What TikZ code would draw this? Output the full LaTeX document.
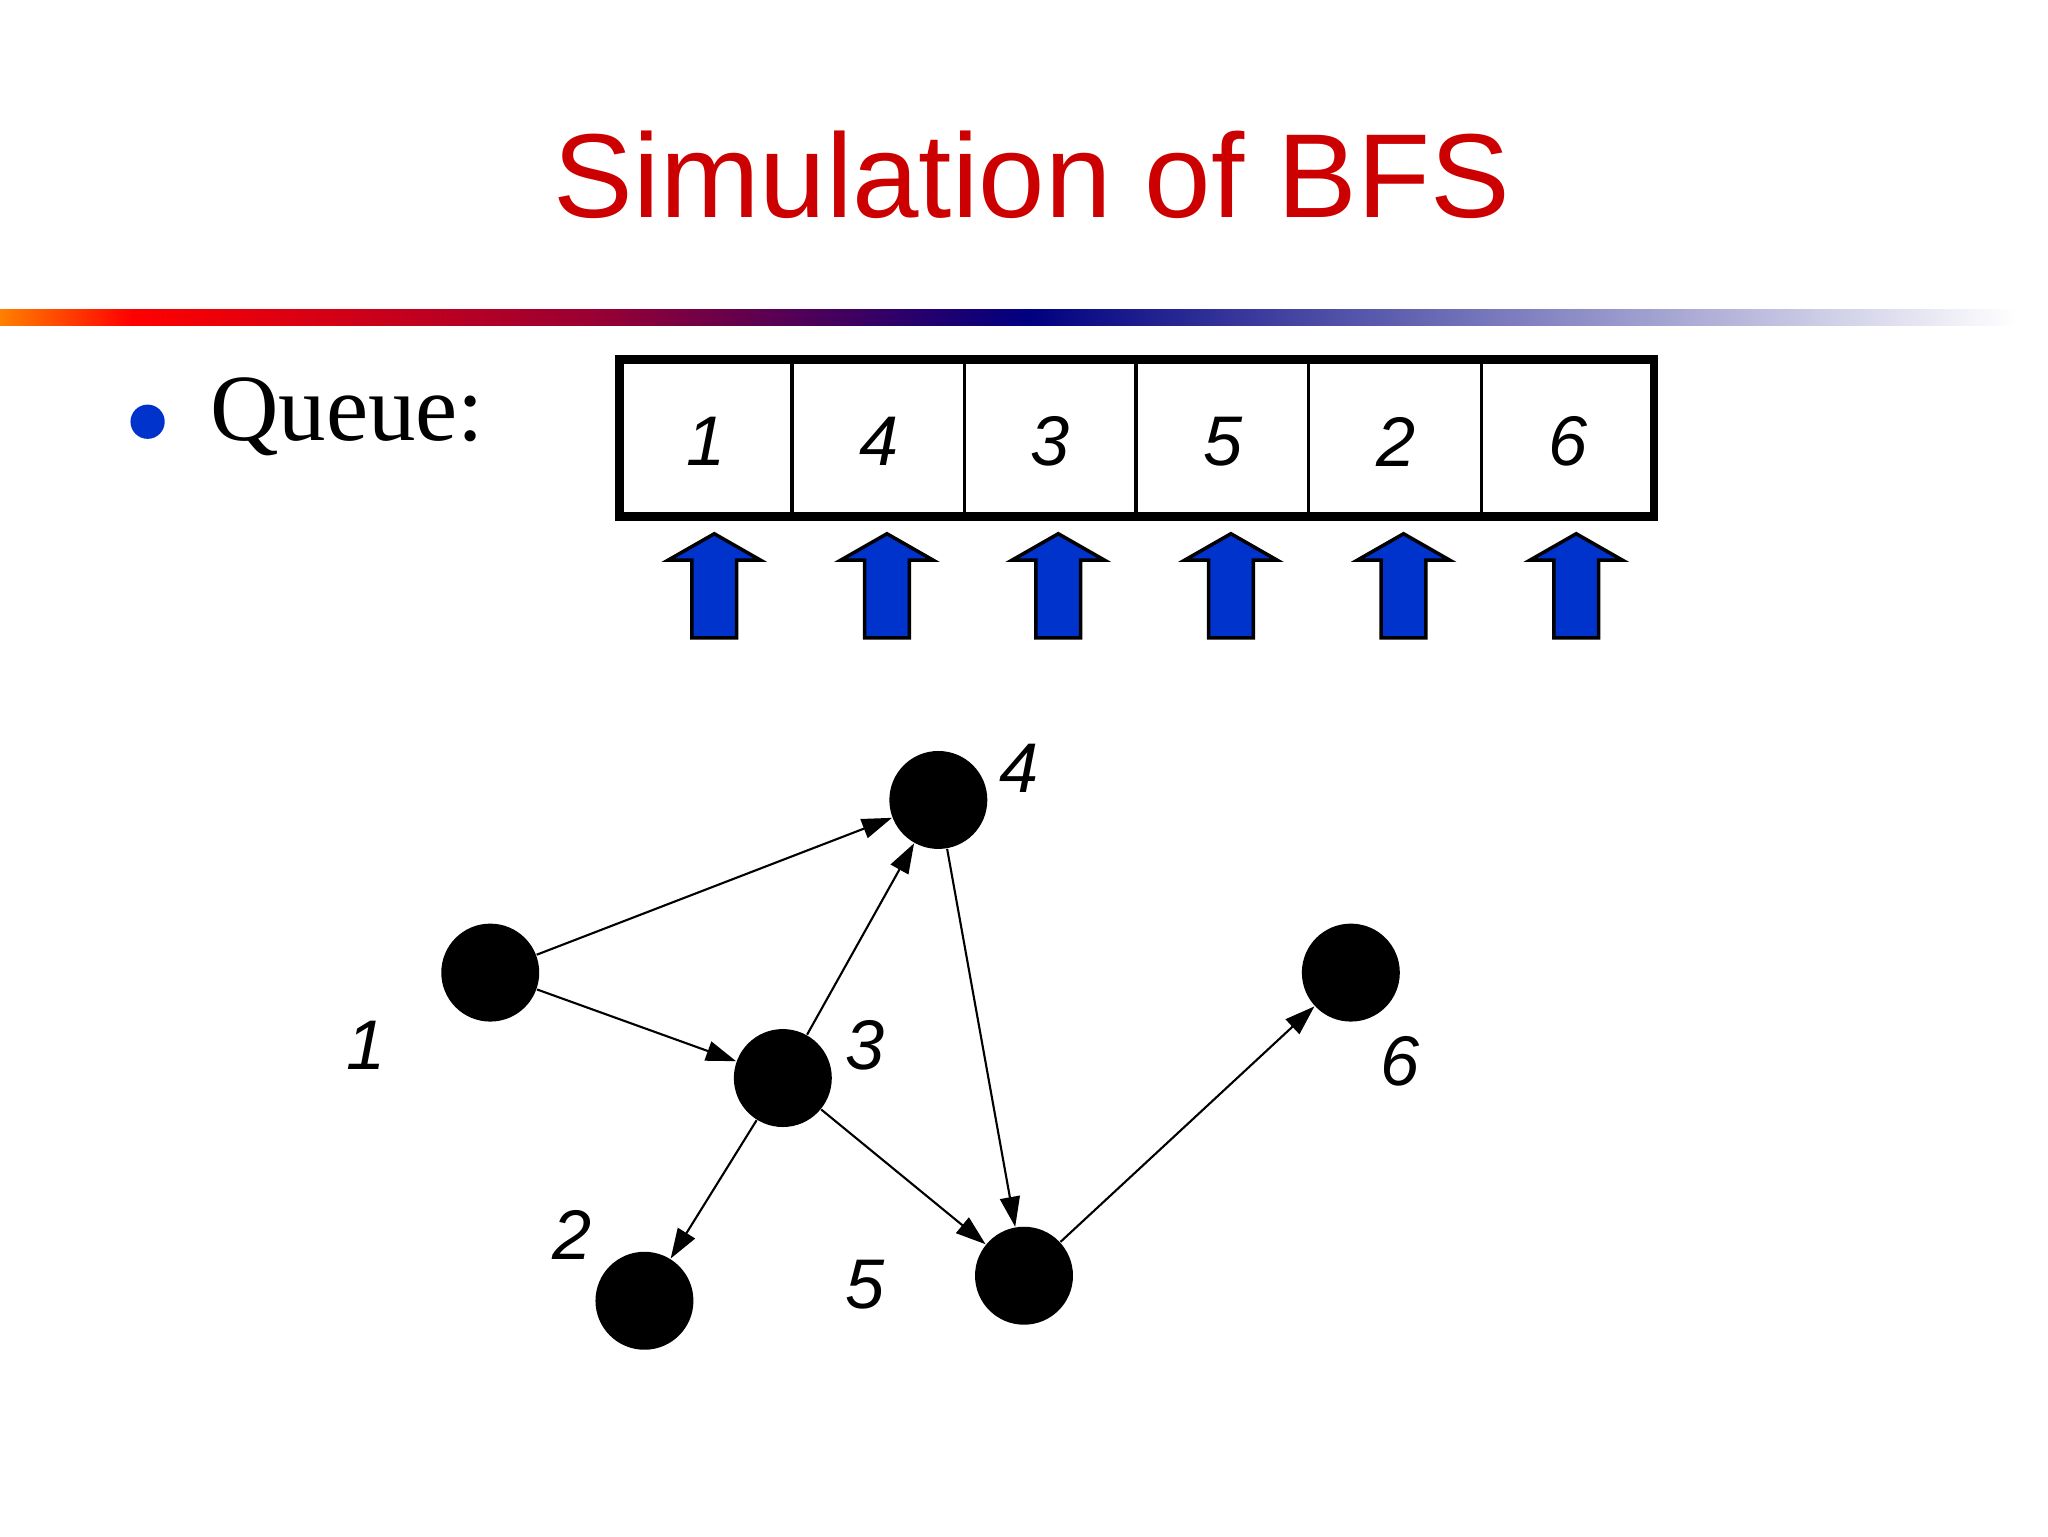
\documentclass[tikz,border=0pt]{standalone}
\usepackage{fontspec}
\setmainfont{Liberation Serif}
\newfontfamily\sans{Liberation Sans}
\usetikzlibrary{arrows.meta}
\definecolor{tred}{RGB}{204,0,0}
\definecolor{qblue}{RGB}{0,51,204}
\begin{document}
\begin{tikzpicture}[x=0.01318cm,y=-0.01318cm,
  vert/.style={circle,fill=black,minimum size=0.98cm,inner sep=0},
  lab/.style={font=\sans\itshape\fontsize{20}{20}\selectfont},
  edge/.style={-{Triangle[length=0.3cm,width=0.2cm]},line width=0.6pt},
  cell/.style={lab},
  uparrow/.style={fill=qblue,draw=black,line width=1pt}]
\useasboundingbox (0,0) rectangle (1554,1166);
\node[font=\sans\fontsize{34}{34}\selectfont,text=tred] (title) at (783,133) {Simulation of BFS};
% gradient line
\shade[left color=orange,right color=red] (0,235) rectangle (100,247);
\shade[left color=red,right color=purple!80!black] (100,235) rectangle (450,247);
\shade[left color=purple!80!black,right color={rgb,255:red,0;green,0;blue,128}] (450,235) rectangle (780,247);
\shade[left color={rgb,255:red,0;green,0;blue,128},right color=white] (780,235) rectangle (1530,247);
\fill[qblue] (112,320) circle (13);
\node[anchor=west,font=\fontsize{27}{27}\selectfont] (q) at (150,316) {Queue:};
\draw[line width=2.5pt] (470,273) rectangle (1255,392);
\foreach \x in {601,732,862,993,1124} \draw[line width=1pt] (\x,273) -- (\x,392);
\foreach \x/\t in {536/1,667/4,797/3,928/5,1059/2,1190/6}
  \node[cell] (c\t) at (\x,335) {\t};
\foreach \x in {542,673,803,934,1065,1196}
  \draw[uparrow] (\x,405) -- (\x+35,425) -- (\x+17,425) -- (\x+17,484) -- (\x-17,484) -- (\x-17,425) -- (\x-35,425) -- cycle;
\node[vert] (n1) at (372,738) {};
\node[vert] (n4) at (712,607) {};
\node[vert] (n3) at (594,818) {};
\node[vert] (n2) at (489,987) {};
\node[vert] (n5) at (777,968) {};
\node[vert] (n6) at (1025,738) {};
\node[lab] (l1) at (278,793) {1};
\node[lab] (l4) at (773,583) {4};
\node[lab] (l3) at (656,793) {3};
\node[lab] (l2) at (434,937) {2};
\node[lab] (l5) at (656,975) {5};
\node[lab] (l6) at (1062,805) {6};
\draw[edge] (n1) -- (n4);
\draw[edge] (n1) -- (n3);
\draw[edge] (n3) -- (n4);
\draw[edge] (n4) -- (n5);
\draw[edge] (n3) -- (n2);
\draw[edge] (n3) -- (n5);
\draw[edge] (n5) -- (n6);
\end{tikzpicture}
\end{document}
